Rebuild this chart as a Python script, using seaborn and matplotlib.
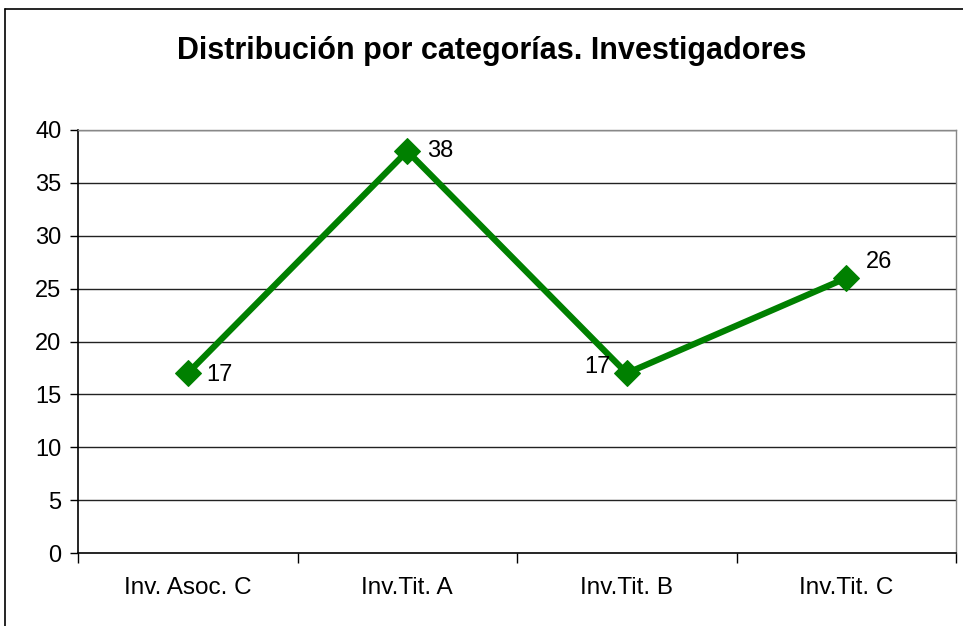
import matplotlib
matplotlib.use("Agg")
import matplotlib.pyplot as plt
import seaborn as sns
import pandas as pd
from matplotlib.lines import Line2D

# ==========================================
# DATA
# ==========================================

categories = ["Inv. Asoc. C", "Inv.Tit. A", "Inv.Tit. B", "Inv.Tit. C"]
values = [17, 38, 17, 26]
title = "Distribución por categorías. Investigadores"

df = pd.DataFrame({"pos": range(len(categories)), "value": values})

# ==========================================
# PLOT
# ==========================================

sns.set_style("white")
plt.rcParams["font.family"] = ["Liberation Sans", "DejaVu Sans"]
plt.rcParams["text.color"] = "black"
plt.rcParams["xtick.color"] = "black"
plt.rcParams["ytick.color"] = "black"

fig = plt.figure(figsize=(9.63, 6.26), dpi=100)
ax = fig.add_axes([78 / 963, 1 - 553 / 626, (956 - 78) / 963, (553 - 130) / 626])

for y in range(5, 45, 5):
    ax.axhline(y, color="#222222", linewidth=1.0, zorder=1)

sns.lineplot(
    data=df, x="pos", y="value", ax=ax,
    color="#008000", linewidth=4.5, marker="D", markersize=13,
    markeredgecolor="#008000", zorder=3
)

# data labels
offsets = [(18, -2, "left"), (20, 0, "left"), (-16, 6, "right"), (20, 16, "left")]
for i, (v, (dx, dy, ha)) in enumerate(zip(values, offsets)):
    ax.annotate(str(v), (i, v), xytext=(dx, dy), textcoords="offset pixels",
                ha=ha, va="center", fontsize=17, color="black")

ax.set_xlim(-0.5, len(categories) - 0.5)
ax.set_ylim(0, 40)
ax.set_yticks(range(0, 45, 5))
ax.set_yticklabels([str(v) for v in range(0, 45, 5)], fontsize=17)
ax.set_xticks([i - 0.5 for i in range(len(categories) + 1)], minor=False)
ax.set_xticklabels([])
ax.set_xticks(range(len(categories)), minor=True)
ax.set_xticklabels(categories, minor=True, fontsize=17.5)
ax.tick_params(axis="x", which="major", bottom=True, direction="out", length=7, width=1, color="black")
ax.tick_params(axis="x", which="minor", bottom=False, length=0, pad=17)
ax.tick_params(axis="y", left=True, direction="out", length=6, width=1, color="black", pad=6)
ax.set_xlabel("")
ax.set_ylabel("")

for side in ["left", "bottom"]:
    ax.spines[side].set_color("black")
    ax.spines[side].set_linewidth(1.2)
for side in ["top", "right"]:
    ax.spines[side].set_color("#888888")
    ax.spines[side].set_linewidth(1.0)

fig.text(492 / 963, 1 - 51 / 626, title, ha="center", va="center",
         fontsize=22, fontweight="bold")

# figure frame (top and left edges visible)
fig.add_artist(Line2D([5 / 963, 1], [1 - 9 / 626, 1 - 9 / 626], color="black", linewidth=1.2))
fig.add_artist(Line2D([5 / 963, 5 / 963], [0, 1 - 9 / 626], color="black", linewidth=1.2))

fig.savefig("out.png", dpi=100)
